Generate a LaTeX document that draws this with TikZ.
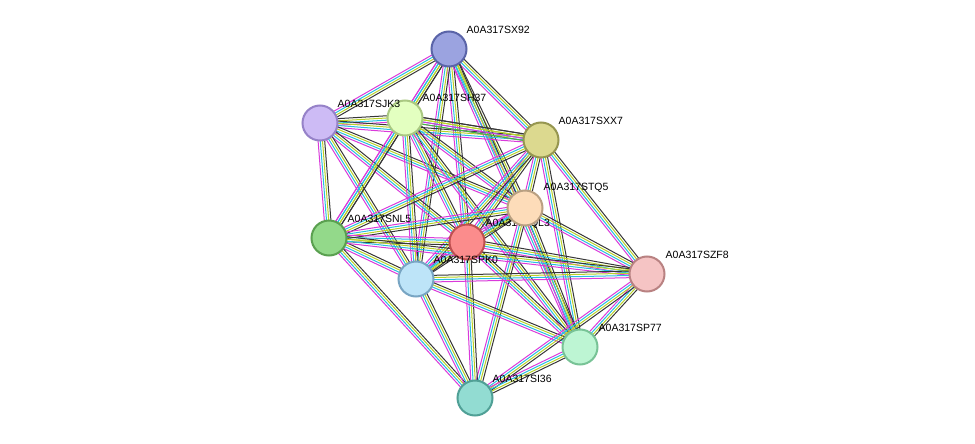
\documentclass[tikz,border=0pt]{standalone}
\usepackage{fontspec}
\setmainfont{Liberation Sans}
\usetikzlibrary{calc}
\begin{document}
\begin{tikzpicture}[x=1pt,y=-1pt,
  prot/.style={circle,minimum size=35pt,inner sep=0pt,line width=2pt},
  lab/.style={anchor=south west,inner sep=0.5pt,font=\fontsize{10.5}{12}\selectfont,text=black}]
\definecolor{mg}{RGB}{218,58,218}
\definecolor{cy}{RGB}{40,190,225}
\definecolor{li}{RGB}{185,210,40}
\definecolor{bk}{RGB}{55,55,55}
\definecolor{gr}{RGB}{60,190,60}
\useasboundingbox (0,0) rectangle (975,444);
\fill[white] (0,0) rectangle (975,444);
\coordinate (sx92) at (449,49);
\coordinate (sjk3) at (320,123);
\coordinate (sh37) at (405,118);
\coordinate (sxx7) at (541,140);
\coordinate (stq5) at (525,208);
\coordinate (sql3) at (467,242);
\coordinate (snl5) at (329,238);
\coordinate (spk0) at (416,279);
\coordinate (szf8) at (647,274);
\coordinate (sp77) at (580,347);
\coordinate (si36) at (475,398);
\newcommand\edg[3]{%
  \foreach \c [count=\i] in {#3} {
    \draw[\c,line width=1pt] let \p1=(#1),\p2=(#2),
      \n1={atan2(\y2-\y1,\x2-\x1)+90},\n2={(\i-2.5)*2.2}
      in ([shift={(\n1:\n2 pt)}]\p1) -- ([shift={(\n1:\n2 pt)}]\p2);
  }}
\foreach \a/\b in {sx92/sjk3,sx92/sh37,sx92/sxx7,sx92/stq5,sx92/sql3,sx92/snl5,sx92/spk0,sx92/sp77,
  sjk3/sh37,sjk3/sxx7,sjk3/stq5,sjk3/sql3,sjk3/snl5,sjk3/spk0,
  sh37/sxx7,sh37/stq5,sh37/sql3,sh37/snl5,sh37/spk0,sh37/sp77,
  sxx7/stq5,sxx7/sql3,sxx7/snl5,sxx7/spk0,sxx7/szf8,sxx7/sp77,
  stq5/sql3,stq5/snl5,stq5/spk0,stq5/szf8,stq5/sp77,stq5/si36,
  sql3/snl5,sql3/spk0,sql3/szf8,sql3/sp77,sql3/si36,
  snl5/spk0,snl5/szf8,snl5/si36,
  spk0/szf8,spk0/sp77,spk0/si36,
  szf8/sp77,szf8/si36,sp77/si36}
  {\edg{\a}{\b}{mg,cy,li,bk}}
\edg{sh37}{sxx7}{gr,mg,li,bk}
\node[prot,fill={rgb,255:red,155;green,163;blue,224},draw={rgb,255:red,90;green,100;blue,168}] (n1) at (sx92) {};
\node[prot,fill={rgb,255:red,205;green,187;blue,245},draw={rgb,255:red,150;green,130;blue,200}] (n2) at (sjk3) {};
\node[prot,fill={rgb,255:red,227;green,255;blue,192},draw={rgb,255:red,170;green,200;blue,130}] (n3) at (sh37) {};
\node[prot,fill={rgb,255:red,220;green,217;blue,143},draw={rgb,255:red,150;green,150;blue,80}] (n4) at (sxx7) {};
\node[prot,fill={rgb,255:red,251;green,140;blue,140},draw={rgb,255:red,190;green,80;blue,80}] (n6) at (sql3) {};
\node[lab] at (485,229) {A0A317SQL3};
\node[prot,fill={rgb,255:red,253;green,220;blue,185},draw={rgb,255:red,185;green,160;blue,130}] (n5) at (stq5) {};
\node[prot,fill={rgb,255:red,147;green,217;blue,138},draw={rgb,255:red,90;green,160;blue,80}] (n7) at (snl5) {};
\node[prot,fill={rgb,255:red,189;green,228;blue,248},draw={rgb,255:red,120;green,165;blue,195}] (n8) at (spk0) {};
\node[prot,fill={rgb,255:red,245;green,196;blue,196},draw={rgb,255:red,185;green,130;blue,130}] (n9) at (szf8) {};
\node[prot,fill={rgb,255:red,189;green,245;blue,211},draw={rgb,255:red,120;green,195;blue,150}] (n10) at (sp77) {};
\node[prot,fill={rgb,255:red,146;green,220;blue,210},draw={rgb,255:red,80;green,160;blue,150}] (n11) at (si36) {};
\node[lab] at (466,34) {A0A317SX92};
\node[lab] at (337,108) {A0A317SJK3};
\node[lab] at (422,102) {A0A317SH37};
\node[lab] at (558,125) {A0A317SXX7};
\node[lab] at (543,193) {A0A317STQ5};
\node[lab] at (347,223) {A0A317SNL5};
\node[lab] at (433,264) {A0A317SPK0};
\node[lab] at (665,259) {A0A317SZF8};
\node[lab] at (598,332) {A0A317SP77};
\node[lab] at (492,383) {A0A317SI36};
\end{tikzpicture}
\end{document}
